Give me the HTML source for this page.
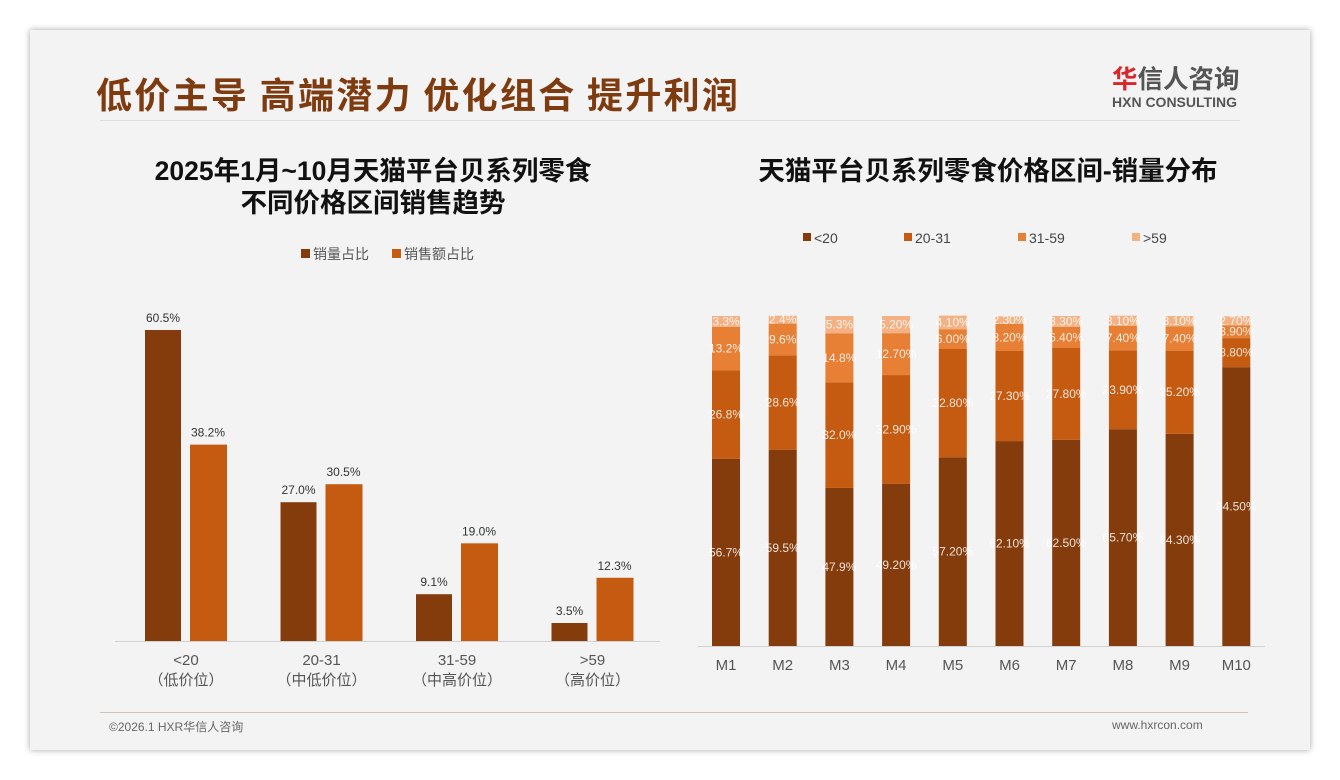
<!DOCTYPE html>
<html><head><meta charset="utf-8"><style>
*{margin:0;padding:0;box-sizing:border-box}
body{width:1340px;height:780px;background:#fff;position:relative;overflow:hidden;font-family:"Liberation Sans","Noto Sans CJK SC",sans-serif}
#slide{position:absolute;left:30px;top:30px;width:1280px;height:720px;background:#f3f3f3;box-shadow:0 0 6px rgba(0,0,0,.35)}
.abs{position:absolute}
</style></head><body>
<div id="slide">
<div class="abs" style="left:66px;top:40px;font-size:36px;font-weight:bold;color:#7f3b10;font-family:'Noto Sans CJK SC',sans-serif;letter-spacing:2.3px;line-height:46px;white-space:nowrap">低价主导 高端潜力 优化组合 提升利润</div>
<div class="abs" style="left:70px;top:90px;width:1140px;height:1px;background:#ddd"></div>
<div class="abs" style="left:1082px;top:32px;font-family:'Noto Sans CJK SC',sans-serif;font-size:25.5px;font-weight:bold;color:#555;line-height:32px;white-space:nowrap"><span style="color:#d8262b">华</span>信人咨询</div>
<div class="abs" style="left:1082px;top:64px;font-size:14px;font-weight:bold;color:#555;white-space:nowrap">HXN CONSULTING</div>
<div class="abs" style="left:70px;top:682px;width:1148px;height:1px;background:#d9c0b0"></div>
<div class="abs" style="left:79px;top:688px;font-size:12px;color:#666">©2026.1 HXR华信人咨询</div>
<div class="abs" style="left:1082px;top:688px;font-size:12px;color:#666">www.hxrcon.com</div>
</div>
<svg id="chart" class="abs" style="left:0;top:0" width="1340" height="780"></svg>
<script>
// Left chart data
const leftCats=["<20","20-31","31-59",">59"];
const leftSub=["（低价位）","（中低价位）","（中高价位）","（高价位）"];
const volShare=[60.5,27.0,9.1,3.5];
const amtShare=[38.2,30.5,19.0,12.3];
// Right chart data
const months=["M1","M2","M3","M4","M5","M6","M7","M8","M9","M10"];
const sLow=[56.7,59.5,47.9,49.2,57.2,62.1,62.5,65.7,64.3,84.5];
const sMid=[26.8,28.6,32.0,32.9,32.8,27.3,27.8,23.9,25.2,8.8];
const sHigh=[13.2,9.6,14.8,12.7,6.0,8.2,6.4,7.4,7.4,3.9];
const sTop=[3.3,2.4,5.3,5.2,4.1,2.3,3.3,3.1,3.1,2.7];
const lowLbl=["56.7%","59.5%","47.9%","49.20%","57.20%","62.10%","62.50%","65.70%","64.30%","84.50%"];
const midLbl=["26.8%","28.6%","32.0%","32.90%","32.80%","27.30%","27.80%","23.90%","25.20%","8.80%"];
const highLbl=["13.2%","9.6%","14.8%","12.70%","6.00%","8.20%","6.40%","7.40%","7.40%","3.90%"];
const topLbl=["3.3%","2.4%","5.3%","5.20%","4.10%","2.30%","3.30%","3.10%","3.10%","2.70%"];
const rightLegend=["<20","20-31","31-59",">59"];

const svg=document.getElementById('chart');
const NS="http://www.w3.org/2000/svg";
function mk(tag,attrs,text){const e=document.createElementNS(NS,tag);for(const k in attrs)e.setAttribute(k,attrs[k]);if(text!==undefined)e.textContent=text;svg.appendChild(e);return e;}
const FONT="Liberation Sans, Noto Sans CJK SC, sans-serif";
const C1="#843c0c",C2="#c55a11",C3="#e77f35",C4="#f4b183";

// titles
let t=mk('text',{x:373,y:180,'text-anchor':'middle','font-size':26.5,'font-weight':'bold',fill:'#111','font-family':FONT},"2025年1月~10月天猫平台贝系列零食");

t=mk('text',{x:373,y:212,'text-anchor':'middle','font-size':26.5,'font-weight':'bold',fill:'#111','font-family':FONT},"不同价格区间销售趋势");

t=mk('text',{x:988,y:180,'text-anchor':'middle','font-size':26.5,'font-weight':'bold',fill:'#111','font-family':FONT},"天猫平台贝系列零食价格区间-销量分布");


// left legend
let r=mk('rect',{x:301,y:249,width:9,height:9,fill:C1});
t=mk('text',{x:313,y:259,'font-size':14,fill:'#555','font-family':FONT},"销量占比");
r=mk('rect',{x:392,y:249,width:9,height:9,fill:C2});
t=mk('text',{x:404,y:259,'font-size':14,fill:'#555','font-family':FONT},"销售额占比");

// left axes
const LB=641, LK=311/60.5;
const lx=i=>186+i*135.5;
const ly=v=>LB-v*LK;
let ln=mk('line',{x1:115,x2:660,y1:LB+0.5,y2:LB+0.5,stroke:'#d0d0d0','stroke-width':1});
leftCats.forEach((c,i)=>{
  let b=mk('rect',{x:lx(i)-41,y:ly(volShare[i]),width:36,height:LB-ly(volShare[i]),fill:C1});
  
  let b2=mk('rect',{x:lx(i)+4,y:ly(amtShare[i]),width:37,height:LB-ly(amtShare[i]),fill:C2});
  
  let l1=mk('text',{x:lx(i)-23,y:ly(volShare[i])-8,'text-anchor':'middle','font-size':12,fill:'#333','font-family':FONT},volShare[i].toFixed(1)+'%');
  
  let l2=mk('text',{x:lx(i)+22,y:ly(amtShare[i])-8,'text-anchor':'middle','font-size':12,fill:'#333','font-family':FONT},amtShare[i].toFixed(1)+'%');
  
  let c1=mk('text',{x:lx(i),y:665,'text-anchor':'middle','font-size':15,fill:'#555','font-family':FONT},c);
  
  let c2=mk('text',{x:lx(i),y:685,'text-anchor':'middle','font-size':15,fill:'#555','font-family':FONT},leftSub[i]);
  
});

// right legend
const legX=[803,904,1018,1132],cols=[C1,C2,C3,C4];
rightLegend.forEach((s,i)=>{
  let q=mk('rect',{x:legX[i],y:233,width:8,height:8,fill:cols[i]});
  let tx=mk('text',{x:legX[i]+11,y:243,'font-size':14,fill:'#444','font-family':FONT},s);
});

// right axes
const RB=646, RK=330/100;
const rx=i=>726+i*56.7;
const ry=v=>RB-v*RK;
ln=mk('line',{x1:698,x2:1265,y1:RB+0.5,y2:RB+0.5,stroke:'#d0d0d0','stroke-width':1});
const series=[sLow,sMid,sHigh,sTop],labels=[lowLbl,midLbl,highLbl,topLbl],snames=['lt20','20-31','31-59','gt59'];
months.forEach((m,i)=>{
  let cum=0;
  series.forEach((s,k)=>{
    const y0=ry(cum),y1=ry(cum+s[i]);
    let b=mk('rect',{x:rx(i)-14,y:y1,width:28,height:y0-y1,fill:cols[k]});
    
    let lb=mk('text',{x:rx(i),y:(y0+y1)/2+4,'text-anchor':'middle','font-size':12,fill:'#fff','fill-opacity':0.85,'font-family':FONT},labels[k][i]);
    
    cum+=s[i];
  });
  let tk=mk('text',{x:rx(i),y:670,'text-anchor':'middle','font-size':15,fill:'#555','font-family':FONT},m);
  
});
</script>
</body></html>
